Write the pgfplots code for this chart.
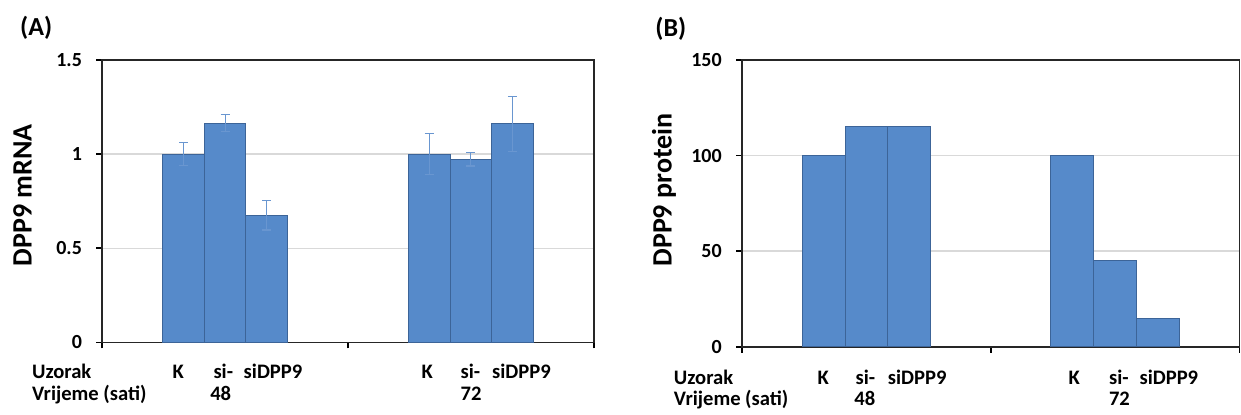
\documentclass[border=0pt]{standalone}
\usepackage{fontspec}
\setmainfont{Carlito}
\usepackage{pgfplots}
\pgfplotsset{compat=1.18}
\usetikzlibrary{calc}
\definecolor{barfill}{RGB}{86,138,202}
\definecolor{barline}{RGB}{60,100,152}
\definecolor{errc}{RGB}{105,150,208}
\definecolor{gridc}{RGB}{217,217,217}
\newcommand{\lf}{\bfseries\fontsize{10.3}{12}\selectfont}
\newcommand{\tf}{\bfseries\fontsize{10}{12}\selectfont}
\tikzset{lab/.style={inner sep=0pt, font=\lf}}

\pgfplotsset{
  panel/.style={
    scale only axis, clip=false,
    xmin=0, xmax=2, ymin=0,
    xtick={0,1,2}, xticklabels={,,},
    tick align=outside, tick pos=left,
    major tick length=3pt,
    every tick/.style={black, line width=0.8pt},
    axis line style={black!85, line width=0.8pt},
    ymajorgrids, grid style={gridc, line width=0.7pt},
    ybar,
    tick label style={font=\tf},
    yticklabel style={anchor=east, inner sep=0pt, xshift=-7pt},
    /pgf/number format/assume math mode=true,
  },
  bars/.style={fill=barfill, draw=barline, line width=0.5pt},
  errs/.style={error bars/.cd, y dir=both, y explicit,
    error bar style={errc, line width=0.6pt},
    error mark options={errc, line width=0.6pt, mark size=2.3pt, rotate=90}},
}

\begin{document}
\begin{tikzpicture}
\path[use as bounding box] (0,0) rectangle (620.5pt,207pt);

% Panel A
\begin{axis}[panel, at={(51.15pt,35.85pt)}, anchor=south west,
  width=245.7pt, height=141.15pt, ymax=1.5, ytick={0,0.5,1,1.5},
  yticklabels={0,0.5,1,1.5}, bar width=0.169]
\addplot[bars, bar shift=-0.169, errs] coordinates {(0.5,1.0) +- (0,0.06) (1.5,1.0) +- (0,0.11)};
\addplot[bars, bar shift=0, errs] coordinates {(0.5,1.165) +- (0,0.046) (1.5,0.972) +- (0,0.035)};
\addplot[bars, bar shift=0.169, errs] coordinates {(0.5,0.675) +- (0,0.078) (1.5,1.16) +- (0,0.145)};
\node[rotate=90, anchor=base, inner sep=0pt, font=\bfseries\fontsize{14}{16}\selectfont]
  at ($(rel axis cs:0,0.5)+(-35.3pt,3pt)$) {DPP9 mRNA};
\node[lab, anchor=base west] at ($(rel axis cs:0,0)+(-35.3pt,-18.1pt)$) {Uzorak};
\node[lab, anchor=base west] at ($(rel axis cs:0,0)+(-35.3pt,-28.9pt)$) {Vrijeme (sati)};
\node[lab, anchor=base] at ($(axis cs:0.309,0)+(0,-18.1pt)$) {K};
\node[lab, anchor=base east] at ($(axis cs:0.534,0)+(0,-18.1pt)$) {si-};
\node[lab, anchor=base west] at ($(axis cs:0.574,0)+(0,-18.1pt)$) {siDPP9};
\node[lab, anchor=base] at ($(axis cs:0.482,0)+(0,-28.9pt)$) {48};
\node[lab, anchor=base] at ($(axis cs:1.323,0)+(0,-18.1pt)$) {K};
\node[lab, anchor=base east] at ($(axis cs:1.540,0)+(0,-18.1pt)$) {si-};
\node[lab, anchor=base west] at ($(axis cs:1.585,0)+(0,-18.1pt)$) {siDPP9};
\node[lab, anchor=base] at ($(axis cs:1.501,0)+(0,-28.9pt)$) {72};
\end{axis}
\node[anchor=base west, inner sep=0pt, font=\bfseries\fontsize{13}{15}\selectfont] at (9.9pt,189.5pt) {(A)};

% Panel B
\begin{axis}[panel, at={(371.05pt,33.65pt)}, anchor=south west,
  width=248.6pt, height=143.35pt, ymax=150, ytick={0,50,100,150}, bar width=0.172]
\addplot[bars, bar shift=-0.172] coordinates {(0.5,100) (1.5,100)};
\addplot[bars, bar shift=0] coordinates {(0.5,115) (1.5,45)};
\addplot[bars, bar shift=0.172] coordinates {(0.5,115) (1.5,14.5)};
\node[rotate=90, anchor=base, inner sep=0pt, font=\bfseries\fontsize{14}{16}\selectfont]
  at ($(rel axis cs:0,0.5)+(-35.2pt,6.7pt)$) {DPP9 protein};
\node[lab, anchor=base west] at ($(rel axis cs:0,0)+(-34.3pt,-18.7pt)$) {Uzorak};
\node[lab, anchor=base west] at ($(rel axis cs:0,0)+(-34.3pt,-29.5pt)$) {Vrijeme (sati)};
\node[lab, anchor=base] at ($(axis cs:0.326,0)+(0,-18.7pt)$) {K};
\node[lab, anchor=base east] at ($(axis cs:0.537,0)+(0,-18.7pt)$) {si-};
\node[lab, anchor=base west] at ($(axis cs:0.585,0)+(0,-18.7pt)$) {siDPP9};
\node[lab, anchor=base] at ($(axis cs:0.494,0)+(0,-29.5pt)$) {48};
\node[lab, anchor=base] at ($(axis cs:1.336,0)+(0,-18.7pt)$) {K};
\node[lab, anchor=base east] at ($(axis cs:1.557,0)+(0,-18.7pt)$) {si-};
\node[lab, anchor=base west] at ($(axis cs:1.597,0)+(0,-18.7pt)$) {siDPP9};
\node[lab, anchor=base] at ($(axis cs:1.518,0)+(0,-29.5pt)$) {72};
\end{axis}
\node[anchor=base west, inner sep=0pt, font=\bfseries\fontsize{13}{15}\selectfont] at (327.5pt,188.6pt) {(B)};
\end{tikzpicture}
\end{document}
